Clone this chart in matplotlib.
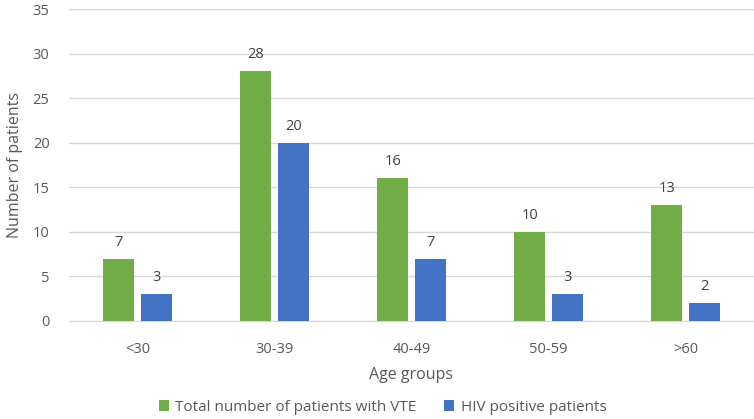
import numpy as np
import matplotlib.pyplot as plt

plt.rcParams['font.family'] = ['Open Sans', 'DejaVu Sans']

groups = ["<30", "30-39", "40-49", "50-59", ">60"]
total_vte = [7, 28, 16, 10, 13]
hiv_pos = [3, 20, 7, 3, 2]

green = "#70AD47"
blue = "#4472C4"
txt = "#595959"

fig = plt.figure(figsize=(7.54, 4.19), dpi=100)
ax = fig.add_axes([0.0915, 0.234, 0.9085, 0.7445])

x = np.arange(len(groups))
w = 0.225
off = 0.1375
b1 = ax.bar(x - off, total_vte, w, color=green, label="Total number of patients with VTE", zorder=3)
b2 = ax.bar(x + off, hiv_pos, w, color=blue, label="HIV positive patients", zorder=3)

for bars in (b1, b2):
    for r in bars:
        ax.text(r.get_x() + r.get_width() / 2, r.get_height() + 1.0, str(int(r.get_height())),
                ha="center", va="bottom", fontsize=10.5, color="#404040")

ax.set_xlim(-0.5, 4.5)
ax.set_ylim(0, 35)
ax.set_yticks(range(0, 36, 5))
ax.set_xticks(x)
ax.set_xticklabels(groups)
ax.grid(axis="y", color="#D9D9D9", linewidth=1, zorder=0)
for s in ["top", "right", "left"]:
    ax.spines[s].set_visible(False)
ax.spines["bottom"].set_color("#D9D9D9")
ax.tick_params(length=0, labelsize=10.5, labelcolor=txt, pad=15)
ax.tick_params(axis="y", pad=14)

ax.set_xlabel("Age groups", fontsize=11.5, color=txt, labelpad=7)
ax.set_ylabel("Number of patients", fontsize=11.5, color=txt, labelpad=7)

ax.legend(loc="lower center", bbox_to_anchor=(0.458, -0.345), ncol=2, frameon=False,
          fontsize=11, labelcolor=txt, handlelength=0.65, handleheight=0.65,
          columnspacing=1.8, handletextpad=0.45)

fig.savefig("out.png", dpi=100)
